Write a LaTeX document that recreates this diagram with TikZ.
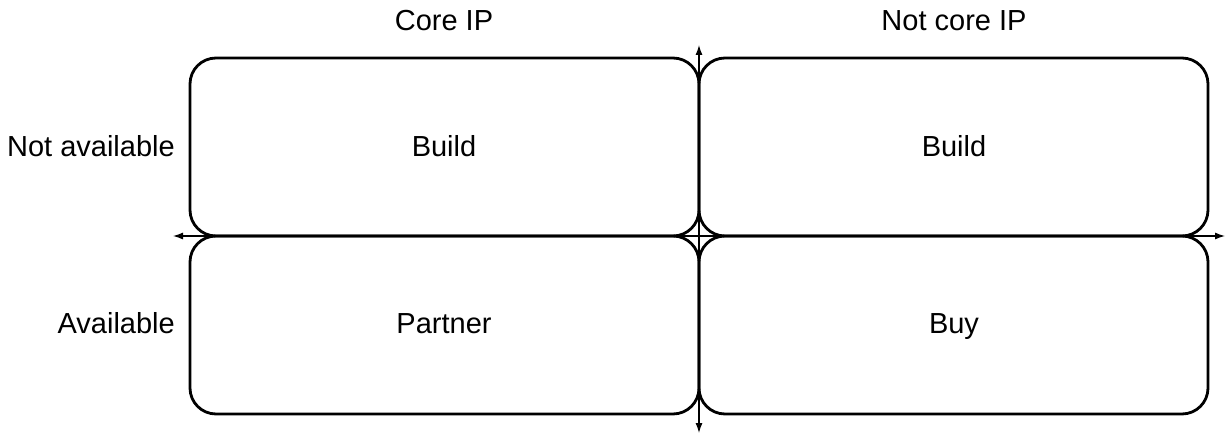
\documentclass[tikz,border=0pt]{standalone}
\usepackage{fontspec}
\setmainfont{Liberation Sans}
\usetikzlibrary{arrows.meta}
\begin{document}
\begin{tikzpicture}[x=1pt,y=1pt,
  cell/.style={draw=black,line width=2.8pt,rounded corners=26pt,minimum width=509pt,minimum height=178pt,inner sep=0pt,outer sep=0pt},
  lbl/.style={font=\fontsize{29}{34}\selectfont,inner sep=0pt,anchor=base},
  axis/.style={line width=1.2pt,{Latex[length=10pt,width=7pt]}-{Latex[length=10pt,width=7pt]}}]
\useasboundingbox (0,0) rectangle (1230,440);
\coordinate (L) at (173,204);
\coordinate (R) at (1225,204);
\coordinate (T) at (699,395);
\coordinate (B) at (699,7);
\draw[axis] (L) -- (R);
\draw[axis] (B) -- (T);
\node[cell] (tl) at (444.5,293) {};
\node[cell] (tr) at (953.5,293) {};
\node[cell] (bl) at (444.5,115) {};
\node[cell] (br) at (953.5,115) {};
\node[lbl] (build1) at (444,284) {Build};
\node[lbl] (build2) at (954,284) {Build};
\node[lbl] (partner) at (444,107) {Partner};
\node[lbl] (buy) at (954,107) {Buy};
\node[lbl] (core) at (444,409) {Core IP};
\node[lbl] (notcore) at (954,409) {Not core IP};
\node[lbl,anchor=base east] (notavail) at (175,284) {Not available};
\node[lbl,anchor=base east] (avail) at (175,107) {Available};
\end{tikzpicture}
\end{document}
